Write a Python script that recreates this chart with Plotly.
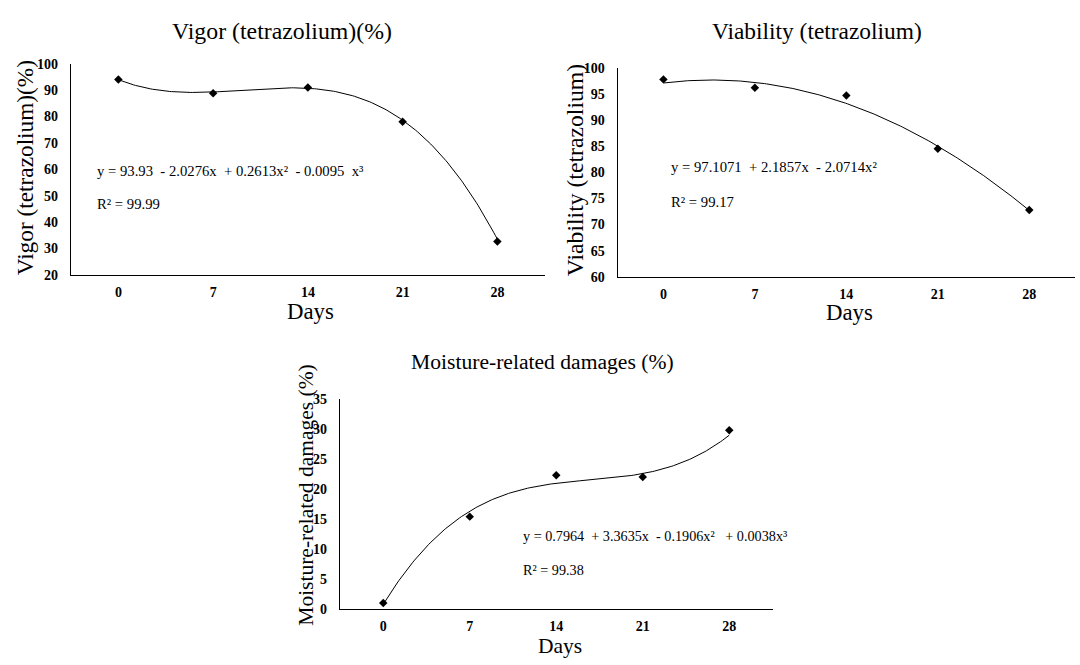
import numpy as np
import plotly.graph_objects as go

# ---- data ----
days = [0, 7, 14, 21, 28]
tick_labels = ["0", "7", "14", "21", "28"]

vigor = [94.0, 88.8, 91.0, 78.0, 32.6]
viability = [97.8, 96.2, 94.7, 84.5, 72.8]
moisture = [1.0, 15.4, 22.3, 22.0, 29.8]

# trendline coefficients printed on the chart (constant, x, x^2, x^3)
vigor_coef = [93.93, -2.0276, 0.2613, -0.0095]        # x in days
viability_coef = [97.1071, 2.1857, -2.0714]          # x in weeks (days/7)
moisture_coef = [0.7964, 3.3635, -0.1906, 0.0038]    # x in days

titles = ["Vigor (tetrazolium)(%)", "Viability (tetrazolium)", "Moisture-related damages (%)"]
eq_texts = [
    "y = 93.93\u00a0\u00a0- 2.0276x\u00a0\u00a0+\u00a00.2613x²\u00a0\u00a0- 0.0095\u00a0\u00a0x³",
    "y = 97.1071\u00a0\u00a0+\u00a02.1857x\u00a0\u00a0- 2.0714x²",
    "y = 0.7964\u00a0\u00a0+ 3.3635x\u00a0\u00a0- 0.1906x²\u00a0\u00a0\u00a0+ 0.0038x³",
]
r2_texts = ["R² = 99.99", "R² = 99.17", "R² = 99.38"]

W, H = 1080, 665
FONT = "Liberation Serif"


def px(x):
    return x / W


def py(y):
    return 1 - y / H


def poly(coef, x):
    x = np.asarray(x, dtype=float)
    return sum(c * x ** i for i, c in enumerate(coef))


fig = go.Figure()

xs = np.linspace(0, 28, 200)
curves = [
    (xs, poly(vigor_coef, xs)),
    (xs, poly(viability_coef, xs / 7.0)),
    (xs, poly(moisture_coef, xs)),
]
series = [vigor, viability, moisture]

for i, (cx, cy) in enumerate(curves):
    ax = "" if i == 0 else str(i + 1)
    fig.add_trace(go.Scatter(x=cx, y=cy, mode="lines",
                             line=dict(color="black", width=1),
                             xaxis="x" + ax, yaxis="y" + ax, showlegend=False,
                             hoverinfo="skip"))
    fig.add_trace(go.Scatter(x=days, y=series[i], mode="markers",
                             marker=dict(symbol="diamond", size=6.5, color="black"),
                             xaxis="x" + ax, yaxis="y" + ax, showlegend=False))

# panel geometry (pixels)
panels = [
    dict(x0=71, x1=544.75, y0=58, y1=274, yr=[20, 100], dt=10),
    dict(x0=617.7, x1=1075, y0=62.3, y1=276, yr=[60, 100], dt=5),
    dict(x0=340, x1=772.5, y0=401, y1=616, yr=[0, 35], dt=5),
]

layout = dict(width=W, height=H, margin=dict(l=0, r=0, t=0, b=0),
              paper_bgcolor="white", plot_bgcolor="white",
              font=dict(family=FONT, color="black"))

for i, p in enumerate(panels):
    k = "" if i == 0 else str(i + 1)
    layout["xaxis" + k] = dict(
        domain=[px(p["x0"]), px(p["x1"])], range=[-3.5, 31.5],
        tickmode="array", tickvals=days, ticktext=tick_labels,
        showline=True, linecolor="black", linewidth=1.2, ticks="",
        showgrid=False, zeroline=False, anchor="y" + k,
        ticklabelstandoff=4,
        tickfont=dict(family=FONT, size=14, color="black", weight="bold"))
    layout["yaxis" + k] = dict(
        domain=[py(p["y1"]), py(p["y0"])], range=p["yr"], dtick=p["dt"],
        tick0=0, showline=True, linecolor="black", linewidth=1.2, ticks="",
        showgrid=False, zeroline=False, anchor="x" + k,
        ticklabelstandoff=9,
        tickfont=dict(family=FONT, size=14, color="black", weight="bold"))

fig.update_layout(**layout)

annots = []


def add(text, x, y, size, xanchor="center", angle=0):
    annots.append(dict(text=text, x=px(x), y=py(y), xref="paper", yref="paper",
                       showarrow=False, xanchor=xanchor, yanchor="middle",
                       textangle=angle,
                       font=dict(family=FONT, size=size, color="black")))


# chart titles
add(titles[0], 282, 25, 23.8)
add(titles[1], 816.7, 25, 23.4)
add(titles[2], 542.7, 363, 21.6)
# y-axis titles
add(titles[0], 25, 165, 23.3, angle=-90)
add(titles[1], 575, 167, 23.7, angle=-90)
add(titles[2], 306, 500, 21.5, angle=-90)
# x-axis titles
add("Days", 310, 312, 22.8)
add("Days", 849, 313, 22.8)
add("Days", 560, 654, 21.5)
# equations
add(eq_texts[0], 95, 167.5, 14.7, xanchor="left")
add(r2_texts[0], 95, 202, 14.7, xanchor="left")
add(eq_texts[1], 669.3, 164, 14.7, xanchor="left")
add(r2_texts[1], 669.3, 199, 14.7, xanchor="left")
add(eq_texts[2], 520.7, 541, 14.2, xanchor="left")
add(r2_texts[2], 520.7, 576, 14.2, xanchor="left")

fig.update_layout(annotations=annots)

fig.write_html("out.html")
